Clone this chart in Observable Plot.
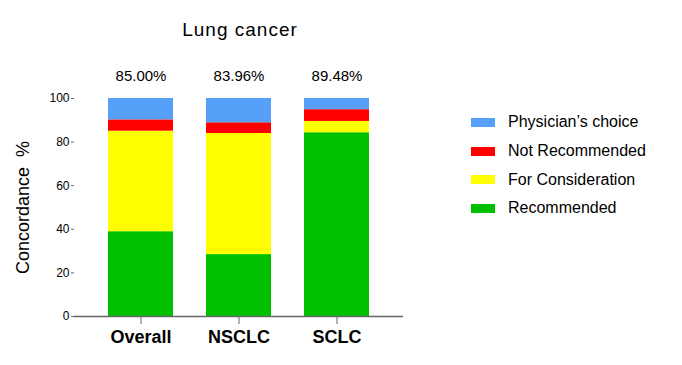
<!DOCTYPE html>
<html>
<head>
<meta charset="utf-8">
<script src="https://cdn.jsdelivr.net/npm/d3@7"></script>
<script src="https://cdn.jsdelivr.net/npm/@observablehq/plot@0.6"></script>
<style>
  html, body { margin: 0; padding: 0; background: #fff; }
  #wrap { position: relative; width: 682px; height: 365px; font-family: Arial, "Liberation Sans", sans-serif; }
  #title { position: absolute; left: 0; width: 480px; text-align: center; top: 19px; font-size: 19px; letter-spacing: 1px; color: #000; }
  #legend { position: absolute; left: 471px; top: 108px; }
  .item { height: 28.7px; display: flex; align-items: center; font-size: 16px; color: #000; }
  .sw { width: 24px; height: 9px; margin-right: 13px; }
  svg text { font-family: Arial, "Liberation Sans", sans-serif; }
</style>
</head>
<body>
<div id="wrap">
  <div id="title">Lung cancer</div>
  <div id="legend"></div>
</div>
<script>
const categories = ["Overall", "NSCLC", "SCLC"];
const series = ["Recommended", "For Consideration", "Not Recommended", "Physician\u2019s choice"];
const colors = ["#00C000", "#FFFF00", "#FF0000", "#56A0FA"];
const recommended = [38.9, 28.4, 84.3];
const forConsideration = [46.1, 55.56, 5.18];
const notRecommended = [5.2, 4.9, 5.4];
const physiciansChoice = [9.8, 11.14, 5.12];
const concordanceLabels = ["85.00%", "83.96%", "89.48%"];
const yTicks = [0, 20, 40, 60, 80, 100];

const valueArrays = [recommended, forConsideration, notRecommended, physiciansChoice];
const data = [];
categories.forEach((c, i) => {
  series.forEach((s, j) => data.push({category: c, series: s, value: valueArrays[j][i]}));
});
const labels = categories.map((c, i) => ({category: c, label: concordanceLabels[i], top: 100}));

const chart = Plot.plot({
  width: 682,
  height: 365,
  marginLeft: 74,
  marginRight: 279,
  marginTop: 98,
  marginBottom: 49,
  style: {fontFamily: "Arial, 'Liberation Sans', sans-serif", fontSize: "12px", background: "transparent", overflow: "visible"},
  x: {domain: categories, padding: 0.34, label: null, axis: null},
  y: {domain: [0, 100], label: null, axis: null},
  color: {domain: series, range: colors},
  marks: [
    Plot.barY(data, {x: "category", y: "value", fill: "series", order: series}),
    Plot.ruleY([0], {stroke: "#666", strokeWidth: 1.3}),
    Plot.ruleX([0], {x: () => null, frameAnchor: "left", y1: 0, y2: 100, stroke: "#666", strokeWidth: 1.3}),
    Plot.axisY({ticks: yTicks, tickSize: 3, tickPadding: 2, stroke: "#666", fontSize: 12, color: "#000", label: null}),
    Plot.axisX({tickSize: 8, tickPadding: 6, stroke: "#666", fontSize: 18, fontWeight: "bold", color: "#000", label: null}),
    Plot.text(labels, {x: "category", y: "top", text: "label", dy: -22, fontSize: 15, fill: "#000"}),
    Plot.text(["Concordance\u00a0 %"], {frameAnchor: "left", textAnchor: "middle", dx: -51, rotate: -90, fontSize: 18, fill: "#000"})
  ]
});
document.getElementById("wrap").prepend(chart);
chart.style.position = "absolute";
chart.style.left = "0";
chart.style.top = "0";

const legend = document.getElementById("legend");
[...series].reverse().forEach((s) => {
  const i = series.indexOf(s);
  const row = document.createElement("div");
  row.className = "item";
  const sw = document.createElement("div");
  sw.className = "sw";
  sw.style.background = colors[i];
  row.appendChild(sw);
  row.appendChild(document.createTextNode(s));
  legend.appendChild(row);
});
</script>
</body>
</html>
